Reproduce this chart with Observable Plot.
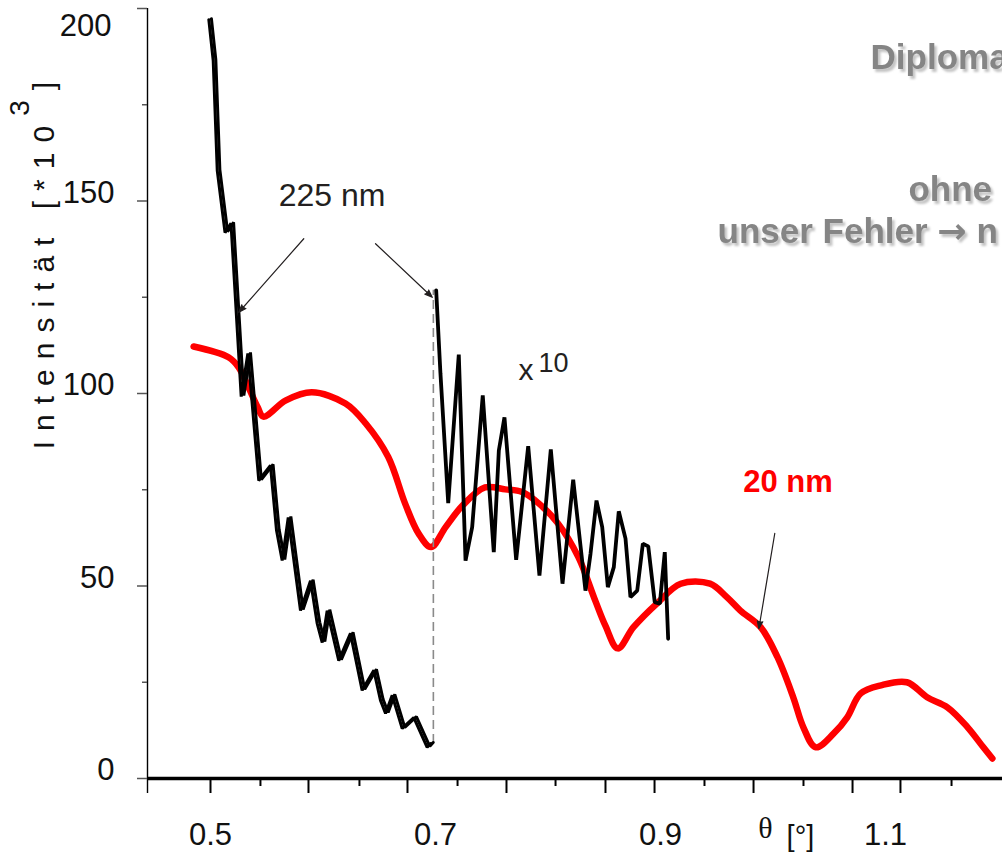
<!DOCTYPE html>
<html>
<head>
<meta charset="utf-8">
<script src="https://cdn.jsdelivr.net/npm/d3@7"></script>
<script src="https://cdn.jsdelivr.net/npm/@observablehq/plot@0.6"></script>
<style>
  html, body { margin: 0; padding: 0; background: #fff; overflow: hidden; }
  #chart { width: 1002px; height: 856px; }
</style>
</head>
<body>
<div id="chart"></div>
<script>
// Reflectivity curves: angle θ [°] against intensity [×10³]

// 20 nm film
const theta20 = [0.485, 0.516, 0.525, 0.533, 0.542, 0.547, 0.567, 0.590, 0.620, 0.638, 0.658,
  0.673, 0.685, 0.696, 0.709, 0.724, 0.744, 0.762, 0.777, 0.792, 0.809,
  0.827, 0.842, 0.851, 0.862, 0.876, 0.897, 0.918, 0.944, 0.959, 0.971,
  0.989, 1.004, 1.018, 1.027, 1.038, 1.054, 1.066, 1.078, 1.096, 1.119,
  1.137, 1.155, 1.173, 1.187, 1.195];
const int20 = [112.2, 109.4, 106.8, 102.1, 96.4, 94.0, 98.2, 100.3, 97.4, 92.2, 83.5,
  71.4, 63.6, 60.1, 65.3, 70.9, 75.6, 75.1, 74.4, 71.4, 66.2,
  57.5, 46.2, 39.7, 33.8, 39.3, 45.5, 50.6, 50.6, 47.1, 43.6,
  39.3, 31.5, 21.1, 13.3, 8.1, 11.7, 15.9, 22.1, 24.2, 25.0,
  21.1, 18.5, 13.3, 8.1, 5.2];

// 225 nm film, low angles
const theta225 = [0.4985, 0.5024, 0.5060, 0.5129, 0.5182, 0.5273, 0.5332, 0.5429, 0.5533, 0.5587,
  0.5637, 0.5691, 0.5800, 0.5889, 0.5948, 0.5993, 0.6037, 0.6140, 0.6244, 0.6348,
  0.6452, 0.6511, 0.6556, 0.6615, 0.6704, 0.6807, 0.6926, 0.6956];
const int225 = [197.1, 186.5, 157.9, 141.8, 144.2, 99.2, 110.4, 77.4, 81.3, 64.4,
  56.6, 67.8, 43.6, 51.4, 40.3, 35.3, 43.6, 30.6, 37.7, 22.9,
  28.1, 20.3, 16.9, 21.6, 13.0, 15.8, 8.1, 9.1];

// 225 nm film, higher angles, drawn ten times enlarged
const theta225x10 = [0.7006, 0.7044, 0.7113, 0.7207, 0.7267, 0.7326, 0.7420, 0.7518, 0.7563, 0.7613,
  0.7717, 0.7824, 0.7924, 0.8025, 0.8129, 0.8224, 0.8333, 0.8378, 0.8431, 0.8482,
  0.8532, 0.8585, 0.8629, 0.8689, 0.8733, 0.8793, 0.8843, 0.8891, 0.8949, 0.8994,
  0.9038, 0.9068];
const int225x10 = [126.8, 105.2, 71.5, 110.1, 56.6, 65.3, 99.5, 58.8, 85.2, 93.8,
  56.8, 86.3, 52.7, 85.5, 50.6, 77.6, 48.8, 58.4, 72.2, 65.3,
  49.7, 54.9, 69.4, 62.3, 47.1, 48.8, 61.0, 60.3, 45.8, 45.4,
  58.8, 36.3];

// axis ticks and labels
const xMajorTicks = [0.5, 0.5871, 0.6751, 0.7631, 0.8511, 0.8947, 0.9827, 1.0707, 1.1133];
const xMinorTicks = [0.5444, 0.6324, 0.7196, 0.8067, 0.9391, 1.0271, 1.1587];
const xTickLabels = [0.5, 0.7, 0.9, 1.1];
const yMajorTicks = [0, 50, 100, 150, 200];
const yMinorTicks = [25, 75, 125, 175];

const yTitle = "Intensität [*10";
const yTitleSup = "3";
const yTitleEnd = "]";

// annotations
const arrows225 = [
  {x1: 0.5829, y1: 140.2, x2: 0.5252, y2: 121.1},
  {x1: 0.6467, y1: 138.9, x2: 0.6971, y2: 125.0}
];
const arrow20 = [{x1: 1.0016, y1: 63.7, x2: 0.9874, y2: 38.9}];
const notes = [
  {x: 1.0867, y: 184.4, text: "Diplomarbeit"},
  {x: 1.1204, y: 150.1, text: "ohne"},
  {x: 0.9507, y: 139.0, text: "unser Fehler \u2192 n"}
];

const W = 1002, H = 856;
const mL = 147, mR = 0, mT = 8, mB = 78;
const xDomain = [0.444, 1.204];
const yDomain = [0, 200];
const kx = (xDomain[1] - xDomain[0]) / (W - mL - mR); // data units per pixel
const ky = (yDomain[1] - yDomain[0]) / (H - mT - mB);

const rows = (xs, ys) => xs.map((x, i) => ({x, y: ys[i]}));
const film20 = rows(theta20, int20);
const film225 = rows(theta225, int225);
const film225x10 = rows(theta225x10, int225x10);

const ink = "#231f20";
const font = "Liberation Sans, Arial, sans-serif";
const topTick = yMajorTicks[yMajorTicks.length - 1];

const svg = Plot.plot({
  width: W,
  height: H,
  marginLeft: mL,
  marginRight: mR,
  marginTop: mT,
  marginBottom: mB,
  x: {domain: xDomain, axis: null},
  y: {domain: yDomain, axis: null},
  style: {fontFamily: font, background: "#fff", overflow: "hidden"},
  marks: [
    // y axis with major and minor ticks
    Plot.ruleX([xDomain[0]], {y1: -15 * ky, y2: 200, stroke: "#000", strokeWidth: 1.4}),
    Plot.ruleY(yMajorTicks, {x1: xDomain[0] - 10 * kx, x2: xDomain[0], stroke: "#555", strokeWidth: 1.5}),
    Plot.ruleY(yMinorTicks, {x1: xDomain[0] - 5 * kx, x2: xDomain[0], stroke: "#555", strokeWidth: 1.5}),
    Plot.text(yMajorTicks.filter(d => d !== topTick), {x: xDomain[0], y: d => d, text: d => `${d}`, dx: -33, dy: -8,
      textAnchor: "end", fontSize: 31, fill: "#111"}),
    Plot.text([topTick], {x: xDomain[0], y: d => d, text: d => `${d}`, dx: -36, dy: 5,
      textAnchor: "end", lineAnchor: "top", fontSize: 31, fill: "#111"}),
    Plot.text([yTitle], {x: xDomain[0], y: 85.5, text: d => d, dx: -94, rotate: -90,
      textAnchor: "start", lineAnchor: "bottom", fontSize: 30, fill: "#111"}),

    // x axis with ticks hanging below
    Plot.ruleX(xMajorTicks, {y1: 0, y2: -15 * ky, stroke: "#000", strokeWidth: 2}),
    Plot.ruleX(xMinorTicks, {y1: 0, y2: -8 * ky, stroke: "#000", strokeWidth: 2}),
    Plot.ruleY([0], {stroke: "#000", strokeWidth: 3.5}),
    Plot.text(xTickLabels, {x: d => d, y: 0, text: d => d.toFixed(1), dy: 57, fontSize: 31, fill: "#111"}),
    Plot.text(["\u03b8"], {x: 0.9933, y: 0, text: d => d, dy: 50, fontSize: 30,
      fontFamily: "Liberation Serif, DejaVu Serif, serif", fill: "#111"}),
    Plot.text(["[\u00b0]"], {x: 1.0244, y: 0, text: d => d, dy: 58, fontSize: 29, fill: "#111"}),

    // curves
    Plot.line(film20, {x: "x", y: "y", stroke: "#ff0000", strokeWidth: 6.5, strokeLinejoin: "round", curve: "catmull-rom"}),
    Plot.ruleX([(theta225[theta225.length - 1] + theta225x10[0]) / 2], {
      y1: int225[int225.length - 1], y2: int225x10[0],
      stroke: "#8a8a8a", strokeWidth: 1.6, strokeDasharray: "9,5"}),
    Plot.line(film225, {x: "x", y: "y", stroke: "#000", strokeWidth: 3, strokeLinejoin: "miter"}),
    Plot.line(film225, {x: "x", y: "y", stroke: "#000", strokeWidth: 3, strokeLinejoin: "miter", dx: 2.6, dy: -1}),
    Plot.line(film225x10, {x: "x", y: "y", stroke: "#000", strokeWidth: 3.8, strokeLinejoin: "miter"}),

    // labels and pointers
    Plot.arrow(arrows225, {x1: "x1", y1: "y1", x2: "x2", y2: "y2", stroke: ink, fill: ink, strokeWidth: 1.2,
      headLength: 10, headAngle: 40}),
    Plot.arrow(arrow20, {x1: "x1", y1: "y1", x2: "x2", y2: "y2", stroke: ink, fill: ink, strokeWidth: 1.2,
      headLength: 10, headAngle: 40}),
    Plot.text(["225 nm"], {x: 0.608, y: 148.8, text: d => d, lineAnchor: "bottom", fontSize: 32, fill: ink}),
    Plot.text(["x"], {x: 0.7738, y: 103.4, text: d => d, textAnchor: "start", lineAnchor: "bottom", fontSize: 30, fill: ink}),
    Plot.text(["10"], {x: 0.7738, y: 103.4, text: d => d, textAnchor: "start", lineAnchor: "bottom", dx: 20, dy: -8, fontSize: 27, fill: ink}),
    Plot.text(["20 nm"], {x: 1.0133, y: 74.4, text: d => d, lineAnchor: "bottom", fontSize: 31, fontWeight: "bold", fill: "#ff0000"}),

    // grey notes with a soft drop shadow
    Plot.text(notes, {x: "x", y: "y", text: "text", textAnchor: "start", lineAnchor: "bottom",
      dx: 2.5, dy: 3, fontSize: 35, fontWeight: "bold", fill: "#c4c4c4"}),
    Plot.text(notes, {x: "x", y: "y", text: "text", textAnchor: "start", lineAnchor: "bottom",
      fontSize: 35, fontWeight: "bold", fill: "#858585"})
  ]
});

const NS = "http://www.w3.org/2000/svg";

for (const t of svg.querySelectorAll("text")) {
  // superscript exponent in the y title
  if (t.textContent === yTitle) {
    t.setAttribute("letter-spacing", "10");
    const sup = document.createElementNS(NS, "tspan");
    sup.setAttribute("dy", "-25");
    sup.setAttribute("font-size", "28");
    sup.textContent = yTitleSup;
    const end = document.createElementNS(NS, "tspan");
    end.setAttribute("dy", "25");
    end.textContent = yTitleEnd;
    t.append(sup, end);
  }
  // heavier arrow glyph inside the notes
  if (t.textContent.includes("\u2192")) {
    const [before, after] = t.textContent.split("\u2192");
    t.textContent = before;
    const arr = document.createElementNS(NS, "tspan");
    arr.setAttribute("font-family", "DejaVu Sans, sans-serif");
    arr.textContent = "\u2192";
    t.append(arr, document.createTextNode(after));
  }
}

// blur for the shadow copy of the notes
const defs = document.createElementNS(NS, "defs");
defs.innerHTML = '<filter id="soft" x="-10%" y="-30%" width="120%" height="160%"><feGaussianBlur stdDeviation="1.2"/></filter>';
svg.insertBefore(defs, svg.firstChild);
for (const g of svg.querySelectorAll("g[fill='#c4c4c4']")) g.setAttribute("filter", "url(#soft)");

document.getElementById("chart").append(svg);
</script>
</body>
</html>
